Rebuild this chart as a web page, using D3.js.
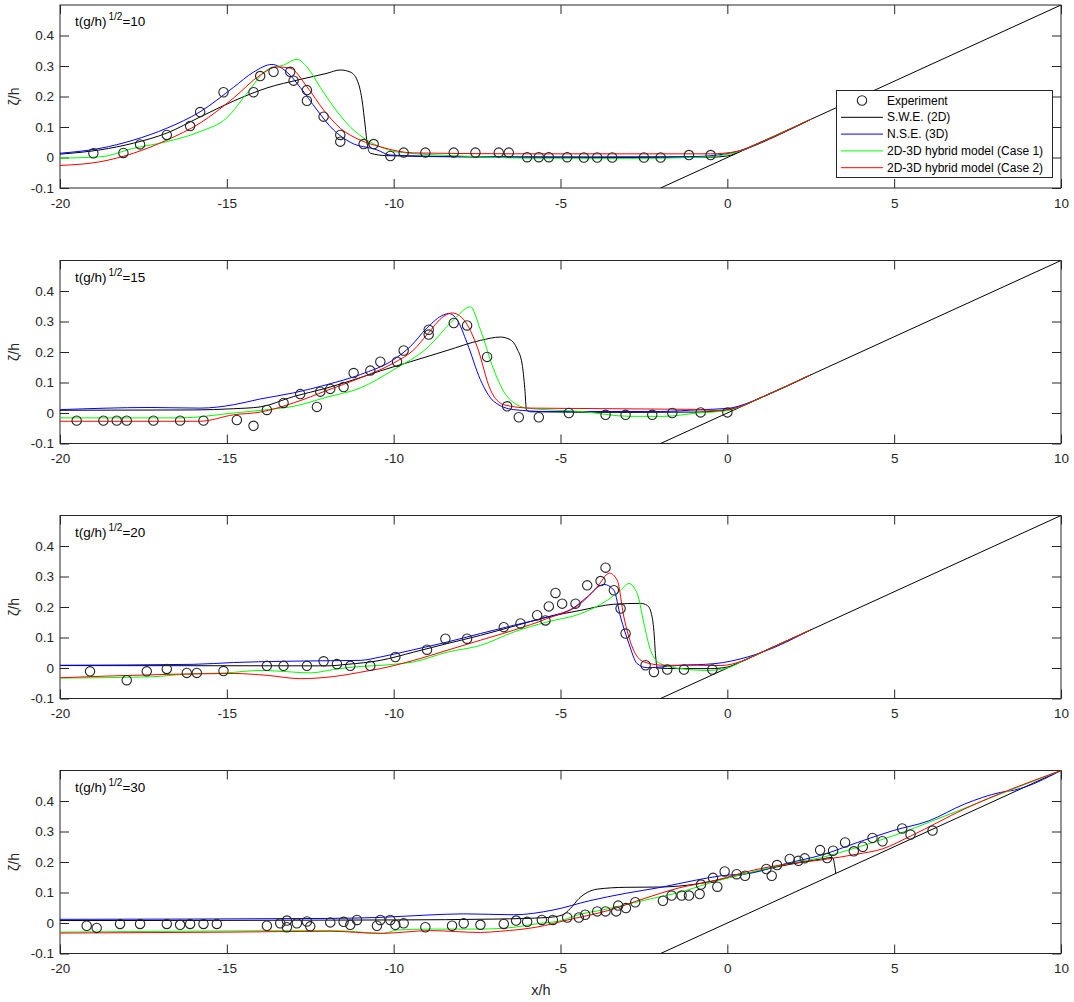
<!DOCTYPE html>
<html>
<head>
<meta charset="utf-8">
<script src="https://cdn.jsdelivr.net/npm/d3@7"></script>
<style>
  body { margin: 0; background: #fff; }
  svg { font-family: "Liberation Sans", Arial, sans-serif; }
</style>
</head>
<body>
<div id="chart"></div>
<script>
// x/h, zeta/h pairs
const times = ["10", "15", "20", "30"];
const xTicks = [-20, -15, -10, -5, 0, 5, 10];
const yTicks = [-0.1, 0, 0.1, 0.2, 0.3, 0.4];
const seriesNames = ["Experiment", "S.W.E. (2D)", "N.S.E. (3D)", "2D-3D hybrid model (Case 1)", "2D-3D hybrid model (Case 2)"];

// beach slope, same in every panel
const beach = [[-2, -0.1], [10, 0.5]];

// t = 10
const exp10 = [[-19.0,0.014],[-18.1,0.015],[-17.6,0.043],[-16.8,0.074],[-16.1,0.103],[-15.8,0.149],[-15.1,0.214],[-14.2,0.214],[-14.0,0.267],[-13.6,0.281],[-13.1,0.281],[-13.0,0.252],[-12.6,0.221],[-12.6,0.186],[-12.1,0.134],[-11.6,0.074],[-11.6,0.052],[-10.9,0.044],[-10.6,0.044],[-10.1,0.005],[-9.7,0.016],[-9.05,0.016],[-8.2,0.016],[-7.55,0.016],[-6.85,0.016],[-6.55,0.016],[-6.0,0.001],[-5.65,0.001],[-5.35,0.001],[-4.8,0.001],[-4.3,0],[-3.9,0],[-3.45,0],[-2.5,0],[-2.0,0],[-1.15,0.008],[-0.5,0.008]];
const swe10 = [[-20,0.011],[-18.8,0.025],[-17.8,0.047],[-16.8,0.08],[-15.8,0.133],[-14.8,0.185],[-13.8,0.228],[-12.8,0.256],[-12.0,0.276],[-11.6,0.287],[-11.3,0.28],[-11.1,0.255],[-10.95,0.19],[-10.85,0.1],[-10.78,0.035],[-10.7,0.014],[-10.2,0.006],[-8,0.002],[-5,0],[-2,0],[-0.5,0.001],[0,0.005],[0.5,0.025],[2.5,0.125]];
const nse10 = [[-20,0.014],[-18.8,0.03],[-17.8,0.057],[-16.8,0.096],[-15.8,0.15],[-14.8,0.23],[-14.2,0.28],[-13.65,0.305],[-13.2,0.28],[-12.8,0.23],[-12.3,0.156],[-11.8,0.09],[-11.3,0.05],[-10.5,0.025],[-10.1,0.008],[-8,0.003],[-4,0.002],[-1,0.003],[-0.3,0.008],[0.3,0.02],[1,0.05],[2.5,0.125]];
const case1_10 = [[-20,-0.002],[-18.8,0.002],[-17.8,0.03],[-16.8,0.052],[-15.8,0.085],[-15.0,0.13],[-14.4,0.21],[-13.8,0.287],[-13.3,0.303],[-12.9,0.322],[-12.6,0.297],[-12.2,0.23],[-11.8,0.166],[-11.3,0.1],[-10.8,0.057],[-10.4,0.035],[-9.9,0.018],[-8,0.005],[-6,-0.002],[-3,-0.003],[-1,0.0],[-0.3,0.005],[0.3,0.018],[1,0.05],[2.5,0.125]];
const case2_10 = [[-20,-0.026],[-18.8,-0.014],[-17.8,0.014],[-16.8,0.057],[-15.8,0.113],[-14.8,0.195],[-14.0,0.27],[-13.5,0.297],[-13.1,0.293],[-12.6,0.232],[-12.1,0.156],[-11.6,0.096],[-11.0,0.057],[-10.4,0.035],[-9.4,0.015],[-6,0.012],[-2,0.012],[-0.5,0.012],[0.3,0.02],[1,0.05],[2.5,0.125]];

// t = 15
const exp15 = [[-19.5,-0.025],[-18.7,-0.025],[-18.3,-0.025],[-18.0,-0.025],[-17.2,-0.025],[-16.4,-0.025],[-15.7,-0.025],[-14.7,-0.023],[-14.2,-0.042],[-13.8,0.01],[-13.3,0.033],[-12.8,0.062],[-12.3,0.02],[-12.2,0.07],[-11.9,0.079],[-11.5,0.085],[-11.2,0.131],[-10.7,0.139],[-10.4,0.168],[-9.9,0.168],[-9.7,0.205],[-8.95,0.273],[-8.95,0.257],[-8.2,0.295],[-7.8,0.287],[-7.2,0.184],[-6.6,0.022],[-6.25,-0.014],[-5.65,-0.014],[-4.75,0],[-3.65,-0.006],[-3.05,-0.006],[-2.25,-0.006],[-1.65,0],[-0.8,0.002],[0,0.002]];
const swe15 = [[-20,0.009],[-16,0.01],[-14.8,0.014],[-14,0.02],[-13,0.054],[-12,0.082],[-11,0.116],[-10.4,0.138],[-9.5,0.168],[-8.4,0.205],[-7.4,0.238],[-6.8,0.249],[-6.5,0.24],[-6.3,0.21],[-6.15,0.16],[-6.07,0.08],[-6.02,0.01],[-5.9,0.004],[-3,0.002],[-1,0.003],[-0.3,0.006],[0.3,0.018],[1,0.05],[2.5,0.125]];
const nse15 = [[-20,0.011],[-17.3,0.018],[-15.8,0.016],[-14.8,0.027],[-14.0,0.046],[-13.0,0.066],[-12.0,0.093],[-11.0,0.126],[-10.0,0.175],[-9.5,0.218],[-9.0,0.279],[-8.5,0.322],[-8.35,0.326],[-8.1,0.306],[-7.8,0.23],[-7.4,0.109],[-7.0,0.038],[-6.4,0.011],[-5.4,0.005],[-2,0.005],[-0.8,0.011],[0,0.015],[0.5,0.028],[1,0.05],[2.5,0.125]];
const case1_15 = [[-20,-0.016],[-16.4,-0.016],[-14.8,0.0],[-13.8,0.011],[-13.0,0.022],[-12.0,0.052],[-11.0,0.082],[-10.0,0.142],[-9.0,0.213],[-8.2,0.306],[-7.7,0.348],[-7.4,0.273],[-7.0,0.142],[-6.6,0.054],[-6.0,0.016],[-4.4,0.005],[-2.9,-0.011],[-1.9,-0.011],[-0.9,0.0],[0,0.008],[0.5,0.025],[1,0.05],[2.5,0.125]];
const case2_15 = [[-20,-0.027],[-15.8,-0.027],[-14.8,-0.006],[-14.0,0.003],[-13.0,0.033],[-12.0,0.074],[-11.0,0.115],[-10.0,0.164],[-9.4,0.207],[-9.0,0.257],[-8.5,0.317],[-8.25,0.328],[-7.9,0.306],[-7.5,0.218],[-7.1,0.076],[-6.7,0.027],[-5.9,0.016],[-1,0.012],[-0.4,0.008],[0.3,0.018],[1,0.05],[2.5,0.125]];

// t = 20
const exp20 = [[-19.1,-0.011],[-18.0,-0.04],[-17.4,-0.011],[-16.8,-0.003],[-16.2,-0.016],[-15.9,-0.016],[-15.1,-0.01],[-13.8,0.007],[-13.3,0.007],[-12.6,0.007],[-12.1,0.022],[-11.7,0.013],[-11.3,0.007],[-10.7,0.007],[-9.95,0.036],[-9.0,0.06],[-8.45,0.096],[-7.8,0.096],[-6.7,0.134],[-6.2,0.146],[-5.7,0.173],[-5.45,0.156],[-5.35,0.202],[-5.15,0.246],[-4.95,0.211],[-4.55,0.211],[-4.2,0.271],[-3.8,0.285],[-3.65,0.329],[-3.4,0.255],[-3.2,0.195],[-3.05,0.113],[-2.45,0.009],[-2.2,-0.013],[-1.8,-0.005],[-1.3,-0.005],[-0.45,-0.005]];
const swe20 = [[-20,0.008],[-12,0.007],[-11.4,0.012],[-10.4,0.025],[-9.4,0.052],[-8.4,0.08],[-7.4,0.107],[-6.4,0.137],[-5.4,0.167],[-4.4,0.189],[-3.4,0.209],[-2.6,0.212],[-2.4,0.205],[-2.28,0.18],[-2.2,0.12],[-2.15,0.04],[-2.1,0.0],[-1.5,-0.002],[-0.5,-0.002],[0,0.003],[0.5,0.025],[1,0.05],[2.5,0.125]];
const nse20 = [[-20,0.009],[-16,0.012],[-14.8,0.018],[-11.8,0.024],[-11,0.025],[-10.4,0.036],[-9.4,0.06],[-8.4,0.085],[-7.4,0.113],[-6.4,0.14],[-5.4,0.167],[-4.6,0.198],[-4.2,0.233],[-3.7,0.274],[-3.4,0.255],[-3.2,0.167],[-2.95,0.08],[-2.7,0.014],[-2.4,0.001],[-1.4,0.009],[-0.4,0.014],[0.6,0.036],[1,0.05],[2.5,0.125]];
const case1_20 = [[-20,-0.033],[-17.3,-0.029],[-16.2,-0.02],[-15,-0.016],[-14,-0.008],[-13.5,-0.01],[-12.5,-0.016],[-11.8,-0.005],[-11.4,0.001],[-10.0,0.012],[-9.4,0.02],[-8.4,0.052],[-7.4,0.074],[-6.4,0.118],[-5.4,0.151],[-4.4,0.178],[-3.6,0.222],[-3.2,0.255],[-2.95,0.277],[-2.7,0.244],[-2.5,0.146],[-2.3,0.058],[-2.0,0.014],[-1.4,-0.002],[-0.6,-0.008],[0,0.0],[0.5,0.025],[1,0.05],[2.5,0.125]];
const case2_20 = [[-20,-0.032],[-16.8,-0.021],[-14.8,-0.018],[-13.8,-0.024],[-12.8,-0.035],[-11.8,-0.028],[-10.8,-0.01],[-10.4,-0.002],[-9.4,0.025],[-8.4,0.058],[-7.4,0.091],[-6.4,0.124],[-5.4,0.162],[-4.4,0.211],[-3.9,0.266],[-3.53,0.311],[-3.3,0.288],[-3.1,0.167],[-2.85,0.069],[-2.5,0.02],[-1.9,0.009],[-0.9,0.009],[-0.2,0.008],[0.5,0.025],[1,0.05],[2.5,0.125]];

// t = 30
const exp30 = [[-19.2,-0.009],[-18.9,-0.016],[-18.2,-0.003],[-17.6,-0.003],[-16.8,-0.003],[-16.4,-0.006],[-16.1,-0.003],[-15.7,-0.003],[-15.3,-0.003],[-13.8,-0.009],[-13.4,-0.001],[-13.2,0.008],[-13.2,-0.014],[-12.9,-0.001],[-12.6,0.005],[-12.5,-0.011],[-11.9,0.002],[-11.5,0.004],[-11.3,-0.006],[-11.1,0.01],[-10.5,-0.009],[-10.4,0.01],[-10.1,0.01],[-9.95,-0.006],[-9.7,-0.001],[-9.05,-0.014],[-8.25,-0.009],[-7.9,-0.001],[-7.4,-0.006],[-6.7,-0.003],[-6.33,0.008],[-6.0,0.004],[-5.56,0.01],[-5.23,0.01],[-4.8,0.018],[-4.45,0.018],[-4.26,0.027],[-3.9,0.038],[-3.65,0.038],[-3.33,0.038],[-3.27,0.057],[-3.04,0.049],[-2.76,0.068],[-1.93,0.073],[-1.67,0.09],[-1.37,0.09],[-1.15,0.09],[-0.83,0.095],[-0.79,0.126],[-0.43,0.148],[-0.3,0.119],[-0.08,0.169],[0.28,0.16],[0.53,0.155],[1.17,0.177],[1.33,0.155],[1.49,0.19],[1.87,0.21],[2.13,0.204],[2.32,0.212],[2.78,0.239],[2.99,0.213],[3.17,0.237],[3.53,0.264],[3.79,0.235],[4.06,0.25],[4.35,0.279],[4.65,0.268],[5.24,0.31],[5.49,0.29],[6.15,0.303]];
const swe30 = [[-20,0.008],[-10,0.01],[-6.9,0.013],[-5.4,0.018],[-4.95,0.026],[-4.7,0.048],[-4.45,0.08],[-4.2,0.1],[-3.9,0.111],[-3.06,0.117],[-1.99,0.118],[-0.92,0.128],[-0.38,0.139],[0.69,0.165],[1.76,0.19],[2.83,0.21],[3.15,0.215],[3.25,0.163]];
const nse30 = [[-20,0.012],[-12,0.015],[-10.5,0.018],[-9,0.026],[-7.9,0.03],[-6.4,0.027],[-5.2,0.043],[-4.13,0.073],[-3.06,0.097],[-1.99,0.117],[-0.92,0.141],[-0.17,0.155],[0.69,0.163],[1.76,0.195],[2.83,0.223],[3.9,0.264],[4.97,0.303],[6.04,0.335],[7.11,0.39],[8.18,0.428],[8.61,0.436],[10,0.5]];
const case1_30 = [[-20,-0.03],[-11.8,-0.025],[-10.3,-0.034],[-9.9,-0.023],[-8.9,-0.02],[-7.4,-0.02],[-6.4,-0.014],[-5.74,-0.003],[-4.9,0.01],[-4.67,0.02],[-3.6,0.046],[-2.31,0.079],[-1.45,0.1],[-0.38,0.136],[0.69,0.166],[1.76,0.193],[2.83,0.215],[3.9,0.248],[4.97,0.286],[6.04,0.33],[7.65,0.40],[10,0.5]];
const case2_30 = [[-20,-0.033],[-15,-0.03],[-11.9,-0.027],[-10.4,-0.034],[-8.9,-0.025],[-7.4,-0.031],[-6.8,-0.027],[-5.74,-0.014],[-4.67,0.013],[-3.6,0.04],[-2.5,0.08],[-1.45,0.115],[-0.38,0.139],[0.69,0.171],[1.76,0.193],[2.83,0.207],[3.9,0.226],[4.65,0.243],[5.51,0.286],[7.11,0.374],[10,0.5]];

const panels = [
  { exp: exp10, lines: [swe10, nse10, case1_10, case2_10] },
  { exp: exp15, lines: [swe15, nse15, case1_15, case2_15] },
  { exp: exp20, lines: [swe20, nse20, case1_20, case2_20] },
  { exp: exp30, lines: [swe30, nse30, case1_30, case2_30] }
];
const lineColours = ["#000000", "#0000ff", "#00ff00", "#ff0000"];
const axisColour = "#262626";

const width = 1074, height = 1002;
const left = 60, right = 1061, panelHeight = 183;
const panelTops = [5, 260.5, 515.5, 770.5];

const x = d3.scaleLinear().domain([-20, 10]).range([left, right]);

const svg = d3.select("#chart")
  .append("svg")
  .attr("width", width)
  .attr("height", height);

panels.forEach((panel, i) => {
  const top = panelTops[i];
  const bottom = top + panelHeight;
  const y = d3.scaleLinear().domain([-0.1, 0.5]).range([bottom, top]);
  const g = svg.append("g");

  g.append("clipPath")
    .attr("id", "clip" + i)
    .append("rect")
    .attr("x", left).attr("y", top)
    .attr("width", right - left).attr("height", panelHeight);

  // ticks point inward on all four sides
  const bottomAxis = g.append("g")
    .attr("transform", `translate(0,${bottom})`)
    .call(d3.axisBottom(x).tickValues(xTicks).tickSize(-9).tickSizeOuter(0).tickPadding(10).tickFormat(d => String(d)));
  const leftAxis = g.append("g")
    .attr("transform", `translate(${left},0)`)
    .call(d3.axisLeft(y).tickValues(yTicks).tickSize(-9).tickSizeOuter(0).tickPadding(6).tickFormat(d => String(d)));
  const topAxis = g.append("g")
    .attr("transform", `translate(0,${top})`)
    .call(d3.axisTop(x).tickValues(xTicks).tickSize(-9).tickSizeOuter(0).tickFormat(""));
  const rightAxis = g.append("g")
    .attr("transform", `translate(${right},0)`)
    .call(d3.axisRight(y).tickValues(yTicks).tickSize(-9).tickSizeOuter(0).tickFormat(""));

  [bottomAxis, leftAxis, topAxis, rightAxis].forEach(a => {
    a.select(".domain").remove();
    a.selectAll("line").attr("stroke", axisColour);
    a.selectAll("text").attr("fill", axisColour).style("font-size", "13.5px");
  });

  g.append("rect")
    .attr("x", left).attr("y", top)
    .attr("width", right - left).attr("height", panelHeight)
    .attr("fill", "none")
    .attr("stroke", axisColour);

  const plot = g.append("g").attr("clip-path", `url(#clip${i})`);
  const line = d3.line()
    .x(d => x(d[0]))
    .y(d => y(d[1]))
    .curve(d3.curveMonotoneX);

  plot.append("path")
    .attr("d", d3.line().x(d => x(d[0])).y(d => y(d[1]))(beach))
    .attr("fill", "none")
    .attr("stroke", "#000")
    .attr("stroke-width", 1);

  panel.lines.forEach((data, k) => {
    plot.append("path")
      .attr("d", line(data))
      .attr("fill", "none")
      .attr("stroke", lineColours[k])
      .attr("stroke-width", 1);
  });

  plot.selectAll("circle")
    .data(panel.exp)
    .enter()
    .append("circle")
    .attr("cx", d => x(d[0]))
    .attr("cy", d => y(d[1]))
    .attr("r", 4.7)
    .attr("fill", "none")
    .attr("stroke", axisColour)
    .attr("stroke-width", 1.1);

  const note = g.append("text")
    .attr("x", 75)
    .attr("y", top + 21)
    .attr("fill", "#000")
    .style("font-size", "13.5px");
  note.append("tspan").text("t(g/h)");
  note.append("tspan").attr("dx", 2).attr("dy", -6).style("font-size", "10px").text("1/2");
  note.append("tspan").attr("dy", 6).text("=" + times[i]);

  g.append("text")
    .attr("transform", `translate(19,${(top + bottom) / 2}) rotate(-90)`)
    .attr("text-anchor", "middle")
    .attr("fill", axisColour)
    .style("font-size", "14px")
    .text("ζ/h");
});

svg.append("text")
  .attr("x", 541)
  .attr("y", 995)
  .attr("text-anchor", "middle")
  .attr("fill", axisColour)
  .style("font-size", "14.5px")
  .text("x/h");

// legend, top panel only
const legend = svg.append("g");
legend.append("rect")
  .attr("x", 836.5).attr("y", 90.5)
  .attr("width", 216).attr("height", 87)
  .attr("fill", "#fff")
  .attr("stroke", axisColour);

seriesNames.forEach((name, k) => {
  const ly = 100.5 + k * 16.8;
  if (k === 0) {
    legend.append("circle")
      .attr("cx", 862).attr("cy", ly)
      .attr("r", 4.7)
      .attr("fill", "none")
      .attr("stroke", axisColour)
      .attr("stroke-width", 1.1);
  } else {
    legend.append("line")
      .attr("x1", 841).attr("x2", 883)
      .attr("y1", ly).attr("y2", ly)
      .attr("stroke", lineColours[k - 1]);
  }
  legend.append("text")
    .attr("x", 887)
    .attr("y", ly + 4)
    .attr("fill", "#000")
    .style("font-size", "12px")
    .text(name);
});
</script>
</body>
</html>
